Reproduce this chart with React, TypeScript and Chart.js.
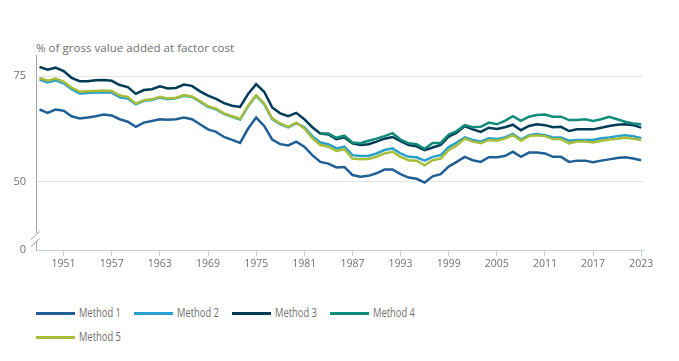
import React, { useEffect, useRef } from "react";
import { Chart, registerables } from "chart.js";

Chart.register(...registerables);

const YEARS = [
  1948, 1949, 1950, 1951, 1952, 1953, 1954, 1955, 1956, 1957,
  1958, 1959, 1960, 1961, 1962, 1963, 1964, 1965, 1966, 1967,
  1968, 1969, 1970, 1971, 1972, 1973, 1974, 1975, 1976, 1977,
  1978, 1979, 1980, 1981, 1982, 1983, 1984, 1985, 1986, 1987,
  1988, 1989, 1990, 1991, 1992, 1993, 1994, 1995, 1996, 1997,
  1998, 1999, 2000, 2001, 2002, 2003, 2004, 2005, 2006, 2007,
  2008, 2009, 2010, 2011, 2012, 2013, 2014, 2015, 2016, 2017,
  2018, 2019, 2020, 2021, 2022, 2023,
];

const TICK_YEARS = [1951, 1957, 1963, 1969, 1975, 1981, 1987, 1993, 1999, 2005, 2011, 2017, 2023];
const Y_TICKS = [50, 75];
const Y_BREAK_LABEL = "0";
const TITLE = "% of gross value added at factor cost";

const METHOD_1 = [
  67.1, 66.3, 67.1, 66.8, 65.5, 65.0, 65.2, 65.5, 65.9, 65.7,
  64.8, 64.2, 63.0, 64.0, 64.4, 64.8, 64.7, 64.8, 65.2, 64.8,
  63.6, 62.4, 61.8, 60.6, 59.9, 59.2, 62.6, 65.2, 63.2, 60.0,
  58.9, 58.6, 59.5, 58.3, 56.3, 54.7, 54.3, 53.4, 53.5, 51.6,
  51.2, 51.4, 52.0, 52.9, 52.9, 51.8, 51.0, 50.7, 49.8, 51.3,
  51.8, 53.6, 54.7, 55.9, 55.1, 54.7, 55.8, 55.8, 56.1, 57.1,
  55.9, 56.9, 56.9, 56.7, 55.9, 55.9, 54.7, 55.0, 55.0, 54.6,
  55.0, 55.3, 55.6, 55.8, 55.5, 55.1,
];

const METHOD_2 = [
  74.2, 73.5, 74.0, 73.3, 71.9, 70.9, 71.0, 71.1, 71.2, 71.1,
  70.0, 69.7, 68.35, 69.15, 69.35, 69.95, 69.55, 69.75, 70.35, 70.05,
  68.95, 67.75, 67.15, 66.05, 65.35, 64.75, 67.85, 70.35, 68.35, 64.85,
  63.65, 62.85, 63.85, 62.9, 60.8, 59.3, 58.9, 57.9, 58.3, 56.3,
  56.1, 56.1, 56.7, 57.5, 57.9, 56.7, 55.9, 55.8, 55.0, 55.9,
  56.3, 58.2, 59.3, 60.5, 59.9, 59.5, 60.3, 60.1, 60.5, 61.3,
  60.0, 61.0, 61.3, 61.0, 60.5, 60.5, 59.7, 59.9, 59.9, 59.9,
  60.3, 60.5, 60.8, 61.0, 60.8, 60.3,
];

const METHOD_3 = [
  77.2, 76.5, 77.0, 76.2, 74.6, 73.8, 73.8, 74.0, 74.1, 73.9,
  72.9, 72.4, 70.8, 71.7, 71.9, 72.6, 72.1, 72.2, 73.0, 72.7,
  71.4, 70.4, 69.6, 68.6, 68.0, 67.7, 70.8, 73.1, 71.3, 67.6,
  66.2, 65.5, 66.3, 64.8, 62.9, 61.4, 61.2, 60.1, 60.5, 59.1,
  58.7, 58.9, 59.5, 60.2, 60.6, 59.6, 58.7, 58.4, 57.5, 58.1,
  58.7, 60.7, 61.6, 63.2, 62.4, 61.8, 62.8, 62.5, 62.9, 63.5,
  62.2, 63.2, 63.6, 63.4, 62.9, 63.0, 62.0, 62.4, 62.4, 62.4,
  62.8, 63.2, 63.5, 63.6, 63.4, 62.8,
];

const METHOD_4 = [
  null, null, null, null, null, null, null, null, null, null,
  null, null, null, null, null, null, null, null, null, null,
  null, null, null, null, null, null, null, null, null, null,
  null, null, null, null, null, 61.4, 61.4, 60.4, 60.9, 59.3,
  59.1, 59.7, 60.2, 60.8, 61.5, 60.0, 59.1, 58.9, 57.8, 59.2,
  59.2, 61.2, 62.0, 63.4, 62.9, 63.0, 64.0, 63.6, 64.4, 65.5,
  64.4, 65.4, 65.8, 65.9, 65.4, 65.4, 64.6, 64.6, 64.8, 64.4,
  64.8, 65.4, 64.8, 64.2, 63.8, 63.6,
];

const METHOD_5 = [
  74.6, 73.9, 74.4, 73.7, 72.3, 71.3, 71.4, 71.5, 71.6, 71.5,
  70.4, 70.1, 68.5, 69.3, 69.5, 70.1, 69.7, 69.9, 70.5, 70.2,
  69.1, 67.9, 67.3, 66.2, 65.5, 64.9, 68.0, 70.5, 68.5, 65.0,
  63.8, 63.0, 64.0, 62.6, 60.3, 58.7, 58.3, 57.3, 57.7, 55.5,
  55.3, 55.4, 55.9, 56.7, 57.1, 55.9, 55.1, 55.0, 53.9, 55.1,
  55.5, 57.5, 58.6, 60.2, 59.5, 59.1, 59.9, 59.7, 60.2, 61.0,
  59.7, 60.8, 61.0, 60.8, 60.1, 60.1, 59.1, 59.5, 59.5, 59.3,
  59.7, 60.0, 60.2, 60.5, 60.2, 59.9,
];

const SERIES_NAMES = ["Method 1", "Method 2", "Method 3", "Method 4", "Method 5"];
const SERIES_VALUES = [METHOD_1, METHOD_2, METHOD_3, METHOD_4, METHOD_5];
const SERIES_COLORS = ["#206095", "#27a0cc", "#003c57", "#118c7b", "#a8bd3a"];

const X_MIN = 1947.56;
const X_MAX = 2023.22;
const Y_MIN = 33.85;
const Y_MAX = 80;

const FONT = "'Open Sans', sans-serif";
const TEXT = "#707070";

const LEGEND_POS = [
  { left: 36, top: 313 },
  { left: 133.5, top: 313 },
  { left: 231.5, top: 313 },
  { left: 329.5, top: 313 },
  { left: 36, top: 337 },
];

export default function App() {
  const ref = useRef<HTMLCanvasElement>(null);

  useEffect(() => {
    const canvas = ref.current;
    if (!canvas) return;

    const datasets = SERIES_NAMES.map((name, i) => ({
      label: name,
      data: YEARS.map((yr, j) => ({ x: yr, y: SERIES_VALUES[i][j] })),
      borderColor: SERIES_COLORS[i],
      backgroundColor: SERIES_COLORS[i],
      borderWidth: 2.5,
      pointRadius: 0,
      pointHoverRadius: 0,
      tension: 0,
      spanGaps: false,
      order: SERIES_NAMES.length - i,
    }));

    const breakPlugin = {
      id: "axisBreak",
      afterDraw(chart: any) {
        const c = chart.ctx;
        const x = chart.chartArea.left;
        const b = chart.chartArea.bottom;
        c.save();
        c.fillStyle = "#ffffff";
        c.fillRect(x - 2, b - 17, 4, 9);
        c.strokeStyle = "#9a9a9a";
        c.lineWidth = 1;
        c.beginPath();
        c.moveTo(x - 5, b - 10.5);
        c.lineTo(x + 3.5, b - 18.5);
        c.moveTo(x - 5, b - 3.5);
        c.lineTo(x + 3.5, b - 11.5);
        c.stroke();
        c.restore();
      },
    };

    const chart = new Chart(canvas, {
      type: "line",
      data: { datasets: datasets as any },
      options: {
        animation: false,
        responsive: false,
        maintainAspectRatio: false,
        layout: { padding: { left: 0, right: 36, top: 55, bottom: 0 } },
        plugins: {
          legend: { display: false },
          tooltip: { enabled: false },
          title: { display: false },
        },
        scales: {
          x: {
            type: "linear",
            min: X_MIN,
            max: X_MAX,
            afterBuildTicks: (s: any) => {
              s.ticks = TICK_YEARS.map((v) => ({ value: v }));
            },
            afterFit: (s: any) => {
              s.height = 40;
            },
            grid: {
              display: true,
              drawOnChartArea: false,
              drawTicks: true,
              tickLength: 6,
              color: "#c9cfdc",
            },
            border: { display: true, color: "#c9cfdc", width: 1 },
            ticks: {
              autoSkip: false,
              maxRotation: 0,
              padding: 2,
              color: TEXT,
              font: { family: FONT, size: 10.5 },
              callback: (v: any) => String(v),
            },
          },
          y: {
            type: "linear",
            min: Y_MIN,
            max: Y_MAX,
            afterBuildTicks: (s: any) => {
              s.ticks = [Y_MIN, ...Y_TICKS].map((v) => ({ value: v }));
            },
            afterFit: (s: any) => {
              s.width = 36;
            },
            grid: {
              drawTicks: false,
              color: (c: any) =>
                c.tick && c.tick.value === Y_MIN ? "rgba(0,0,0,0)" : "#e3e3e3",
            },
            border: { display: true, color: "#a8a8a8", width: 1 },
            ticks: {
              padding: 10,
              color: TEXT,
              font: { family: FONT, size: 11 },
              callback: (v: any) => (v === Y_MIN ? Y_BREAK_LABEL : String(v)),
            },
          },
        },
      },
      plugins: [breakPlugin],
    });

    return () => chart.destroy();
  }, []);

  return (
    <div
      style={{
        position: "absolute",
        left: 0,
        top: 0,
        width: 679,
        height: 361,
        background: "#ffffff",
        fontFamily: FONT,
      }}
    >
      <div
        style={{
          position: "absolute",
          left: 36,
          top: 40,
          fontSize: 11.6,
          lineHeight: "15px",
          color: TEXT,
          whiteSpace: "nowrap",
        }}
      >
        {TITLE}
      </div>
      <canvas
        ref={ref}
        width={679}
        height={290}
        style={{ position: "absolute", left: 0, top: 0, width: 679, height: 290 }}
      />
      {SERIES_NAMES.map((name, i) => (
        <div
          key={name}
          style={{
            position: "absolute",
            left: LEGEND_POS[i].left,
            top: LEGEND_POS[i].top - 8,
            height: 16,
            display: "flex",
            alignItems: "center",
            whiteSpace: "nowrap",
          }}
        >
          <div style={{ width: 39, height: 3, background: SERIES_COLORS[i] }} />
          <span
            style={{
              display: "inline-block",
              marginLeft: 4,
              fontSize: 12,
              lineHeight: "16px",
              color: TEXT,
              transform: "scaleX(0.78)",
              transformOrigin: "left center",
            }}
          >
            {name}
          </span>
        </div>
      ))}
    </div>
  );
}
